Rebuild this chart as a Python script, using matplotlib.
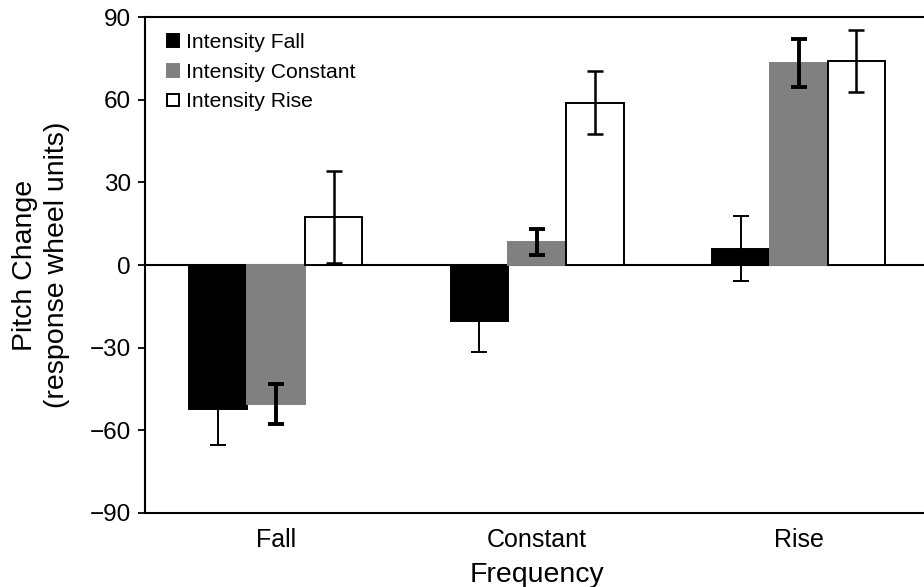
import matplotlib
matplotlib.use('Agg')
import matplotlib.pyplot as plt
import numpy as np

plt.rcParams['font.family'] = ['Liberation Sans', 'DejaVu Sans']

frequency = ['Fall', 'Constant', 'Rise']
series = ['Intensity Fall', 'Intensity Constant', 'Intensity Rise']

# mean pitch change per frequency condition, one list per intensity condition
int_fall = [-52.5, -20.3, 6.0]
int_const = [-50.5, 8.4, 73.6]
int_rise = [17.5, 59.0, 74.1]

err_fall = [13.0, 11.5, 11.7]
err_const = [7.3, 4.7, 8.7]
err_rise = [16.7, 11.5, 11.2]

fig = plt.figure(figsize=(9.24, 5.87), dpi=100)
ax = fig.add_axes([0.1569, 0.1269, 0.849, 0.8433])

x = np.arange(len(frequency))
w = 0.221

styles = [
    dict(color='black', edgecolor='black', elw=1.4),
    dict(color='#808080', edgecolor='#808080', elw=2.8),
    dict(color='white', edgecolor='black', elw=1.8),
]
means = [int_fall, int_const, int_rise]
errs = [err_fall, err_const, err_rise]

ax.axhline(0, color='black', lw=1.5, zorder=1)

for i in range(3):
    xs = x + (i - 1) * w
    ax.bar(xs, means[i], w, color=styles[i]['color'],
           edgecolor=styles[i]['edgecolor'], linewidth=1.4,
           label=series[i], zorder=2)
    ax.errorbar(xs, means[i], yerr=errs[i], fmt='none', ecolor='black',
                elinewidth=styles[i]['elw'], capsize=5.5,
                capthick=styles[i]['elw'], zorder=3)

ax.set_xlim(-0.5, 2.5)
ax.set_ylim(-90, 90)
ax.set_yticks(np.arange(-90, 91, 30))
ax.set_xticks(x)
ax.set_xticklabels(frequency)
ax.tick_params(axis='x', length=0, pad=11, labelsize=18)
ax.tick_params(axis='y', direction='out', length=5, width=1.3, pad=5, labelsize=17.5)
for s in ax.spines.values():
    s.set_linewidth(1.5)

ax.set_xlabel('Frequency', fontsize=20.5, labelpad=7)
ax.set_ylabel('Pitch Change\n(response wheel units)', fontsize=20.5, labelpad=14,
              linespacing=1.3)

leg = ax.legend(loc='upper left', bbox_to_anchor=(0.008, 1.0), frameon=False,
                fontsize=15.2, handlelength=0.55, handleheight=0.55,
                handletextpad=0.35, labelspacing=0.5, borderaxespad=0.35)

fig.savefig('out.png', dpi=100)
